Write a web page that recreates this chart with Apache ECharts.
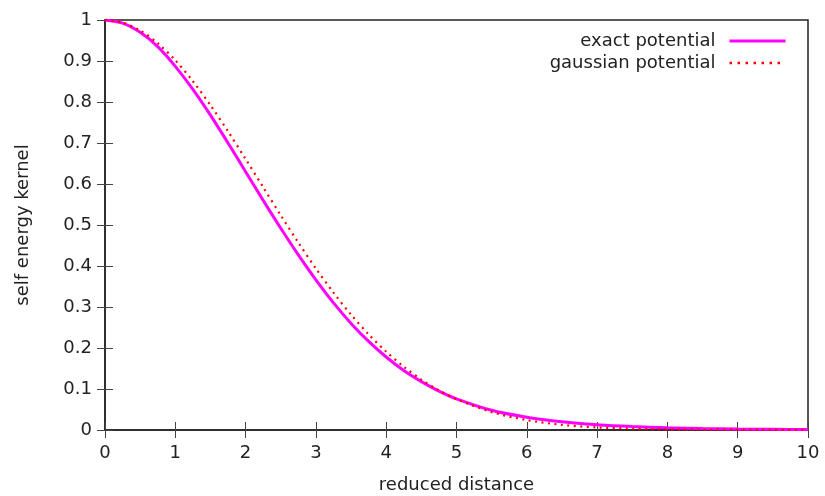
<!DOCTYPE html>
<html>
<head>
<meta charset="utf-8">
<script src="https://cdn.jsdelivr.net/npm/echarts@6/dist/echarts.min.js"></script>
<style>html,body{margin:0;padding:0;background:#fff}#c{width:825px;height:496px}</style>
</head>
<body>
<div id="c"></div>
<script>
var xValues = [0, 0.25, 0.5, 0.75, 1, 1.25, 1.5, 1.75, 2, 2.25, 2.5, 2.75, 3, 3.25, 3.5, 3.75, 4, 4.25, 4.5, 4.75, 5, 5.5, 6, 6.5, 7, 7.5, 8, 8.5, 9, 9.5, 10];
var exactValues = [1, 0.9925, 0.970, 0.935, 0.887, 0.831, 0.768, 0.700, 0.630, 0.560, 0.492, 0.427, 0.366, 0.310, 0.260, 0.216, 0.178, 0.145, 0.118, 0.095, 0.076, 0.048, 0.031, 0.020, 0.013, 0.0085, 0.0055, 0.0036, 0.0024, 0.0016, 0.0011];
var gaussianValues = [1, 0.9935, 0.9745, 0.9434, 0.9017, 0.8507, 0.7922, 0.7283, 0.6610, 0.5921, 0.5236, 0.4571, 0.3939, 0.3351, 0.2814, 0.2332, 0.1909, 0.1542, 0.1229, 0.0967, 0.0752, 0.0437, 0.0241, 0.0126, 0.0063, 0.0030, 0.0013, 0.0006, 0.0002, 0.0001, 0.00003];
var seriesNames = ['exact potential', 'gaussian potential'];
var xTitle = 'reduced distance';
var yTitle = 'self energy kernel';

function pairs(ys) { return xValues.map(function (x, i) { return [x, ys[i]]; }); }

var font = 'DejaVu Sans';
var chart = echarts.init(document.getElementById('c'), null, {renderer: 'canvas'});
var tickStyle = {show: true, inside: true, length: 8, lineStyle: {color: '#444', width: 1}};
chart.setOption({
  animation: false,
  backgroundColor: '#fff',
  grid: {left: 105, right: 17, top: 20, bottom: 66, show: true, borderColor: '#222', borderWidth: 1.5,
    backgroundColor: 'transparent', containLabel: false, outerBoundsMode: 'none'},
  legend: {
    orient: 'vertical', right: 33, top: 27, align: 'right', itemWidth: 56, itemHeight: 14, itemGap: 4,
    itemStyle: {opacity: 0},
    textStyle: {fontFamily: font, fontSize: 18, color: '#222', padding: [0, 9, 0, 0]},
    data: [
      {name: seriesNames[0], lineStyle: {width: 3, color: '#ff00ff'}},
      {name: seriesNames[1], lineStyle: {width: 2.5, color: '#ff0000', type: [2.5, 5.5]}}
    ]
  },
  xAxis: [{
    type: 'value', min: 0, max: 10, interval: 1,
    name: xTitle, nameLocation: 'middle', nameGap: 46,
    nameTextStyle: {fontFamily: font, fontSize: 18, color: '#222'},
    axisLine: {show: true, onZero: false, lineStyle: {color: '#222', width: 1.5}},
    axisTick: tickStyle,
    axisLabel: {fontFamily: font, fontSize: 18, color: '#222', margin: 14},
    splitLine: {show: false}
  }, {
    type: 'value', min: 0, max: 10, interval: 1, position: 'top',
    axisLine: {show: false}, axisTick: tickStyle, axisLabel: {show: false}, splitLine: {show: false}
  }],
  yAxis: [{
    type: 'value', min: 0, max: 1, interval: 0.1,
    name: yTitle, nameLocation: 'middle', nameGap: 73, nameRotate: 90,
    nameTextStyle: {fontFamily: font, fontSize: 18, color: '#222'},
    axisLine: {show: true, onZero: false, lineStyle: {color: '#222', width: 1.5}},
    axisTick: tickStyle,
    axisLabel: {fontFamily: font, fontSize: 18, color: '#222', margin: 13,
      formatter: function (v) { return String(Math.round(v * 10) / 10); }},
    splitLine: {show: false}
  }, {
    type: 'value', min: 0, max: 1, interval: 0.1, position: 'right',
    axisLine: {show: false}, axisTick: tickStyle, axisLabel: {show: false}, splitLine: {show: false}
  }],
  series: [{
    name: seriesNames[0], type: 'line', data: pairs(exactValues), smooth: 0.3,
    showSymbol: false, symbol: 'none',
    lineStyle: {color: '#ff00ff', width: 3}, itemStyle: {color: '#ff00ff'}, z: 2
  }, {
    name: seriesNames[1], type: 'line', data: pairs(gaussianValues), smooth: 0.3,
    showSymbol: false, symbol: 'none',
    lineStyle: {color: '#ff0000', width: 2.2, type: [2, 4.5]}, itemStyle: {color: '#ff0000'}, z: 3
  }]
});
</script>
</body>
</html>
